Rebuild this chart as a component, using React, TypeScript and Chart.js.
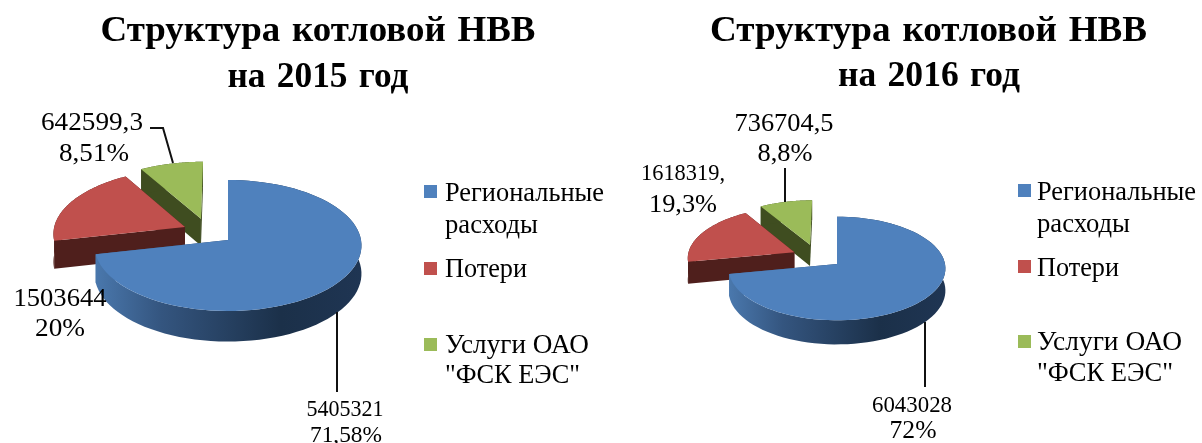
import React, { useEffect, useRef } from "react";
import { Chart, registerables } from "chart.js";

Chart.register(...registerables);

const categoryLines = [["Региональные", "расходы"], ["Потери"], ["Услуги ОАО", '"ФСК ЕЭС"']];
const values2015 = [5405321, 1503644, 642599.3];
const values2016 = [6043028, 1618319, 736704.5];
const titleLine1 = "Структура котловой НВВ";
const title2015 = "на 2015 год";
const title2016 = "на 2016 год";
const labels2015 = [["5405321", "71,58%"], ["1503644", "20%"], ["642599,3", "8,51%"]];
const labels2016 = [["6043028", "72%"], ["1618319,", "19,3%"], ["736704,5", "8,8%"]];
const topColors = ["#4f81bd", "#c0504d", "#9bbb59"];
const wallColors = ["#2c4a70", "#4f1f1c", "#3f4d20"];

const FONT = '"Liberation Serif", serif';

type Txt = [string, number, number, number, number]; // text, centre x, baseline, size, fitted width

function fitText(ctx: CanvasRenderingContext2D, t: Txt, bold = false) {
  const [s, x, y, size, w] = t;
  ctx.save();
  ctx.font = `${bold ? "bold " : ""}${size}px ${FONT}`;
  ctx.textAlign = "left";
  ctx.textBaseline = "alphabetic";
  ctx.fillStyle = "#000";
  (ctx as any).wordSpacing = bold ? "2.5px" : "0px";
  const m = ctx.measureText(s).width;
  ctx.translate(x - w / 2, y);
  ctx.scale(w / m, 1);
  ctx.fillText(s, 0, 0);
  ctx.restore();
}

const pie3d = {
  id: "pie3d",
  beforeDatasetDraw(chart: any, _args: any, o: any) {
    const ctx: CanvasRenderingContext2D = chart.ctx;
    const els: any[] = chart.getDatasetMeta(0).data;
    const project = (cx: number, cy: number, R: number, u: number, v: number, h: number) => {
      const s = 1 / (1 - (o.k * v) / R);
      return [cx + u * s, cy + o.tilt * v * s + h * s];
    };
    ctx.save();
    ctx.translate(-o.originX, 0);
    const g = ctx.createLinearGradient(o.cx - o.R, 0, o.cx + o.R, 0);
    g.addColorStop(0, "#4a78ad");
    g.addColorStop(0.25, "#34557f");
    g.addColorStop(0.7, "#1b3049");
    g.addColorStop(1, "#1f3553");
    for (const i of [2, 1, 0]) {
      const el = els[i];
      const a0 = el.startAngle;
      const a1 = el.endAngle;
      const mid = (a0 + a1) / 2;
      const off = el.options.offset || 0;
      const ou = Math.cos(mid) * off + o.shift[i][0];
      const ov = Math.sin(mid) * off + o.shift[i][1];
      const R = el.outerRadius;
      const P = (u: number, v: number, h: number) => project(o.cx, o.cy, o.R, u + ou, v + ov, h);
      const rim = (h: number) => {
        const pts: number[][] = [];
        const n = 80;
        for (let k = 0; k <= n; k++) {
          const a = a0 + ((a1 - a0) * k) / n;
          pts.push(P(Math.cos(a) * R, Math.sin(a) * R, h));
        }
        return pts;
      };
      const fill = (pts: number[][], color: any) => {
        ctx.beginPath();
        pts.forEach((p, k) => (k ? ctx.lineTo(p[0], p[1]) : ctx.moveTo(p[0], p[1])));
        ctx.closePath();
        ctx.fillStyle = color;
        ctx.fill();
      };
      const wall = i === 0 ? g : wallColors[i];
      const top = rim(0);
      const bottom = rim(o.h);
      // radial walls
      fill([P(0, 0, 0), top[0], bottom[0], P(0, 0, o.h)], wall);
      fill([P(0, 0, 0), top[top.length - 1], bottom[bottom.length - 1], P(0, 0, o.h)], wall);
      // outer wall
      fill([...top, ...bottom.slice().reverse()], wall);
      // top face
      fill([P(0, 0, 0), ...top], el.options.backgroundColor);
    }
    ctx.restore();
    return false;
  },
  afterDraw(chart: any, _args: any, o: any) {
    const ctx: CanvasRenderingContext2D = chart.ctx;
    ctx.save();
    ctx.translate(-o.originX, 0);
    // leader lines
    ctx.strokeStyle = "#111";
    ctx.lineWidth = 2;
    for (const l of o.leaders) {
      ctx.beginPath();
      l.forEach((p: number[], k: number) => (k ? ctx.lineTo(p[0], p[1]) : ctx.moveTo(p[0], p[1])));
      ctx.stroke();
    }
    for (const t of o.titles) fitText(ctx, t, true);
    for (const t of o.texts) fitText(ctx, t);
    // legend
    o.legend.forEach((row: any, i: number) => {
      ctx.fillStyle = topColors[i];
      ctx.fillRect(o.legendX, row.sq, 13, 13);
      row.lines.forEach((b: number, j: number) => {
        const s = categoryLines[i][j];
        fitText(ctx, [s, o.legendTextX + row.w[j] / 2, b, 26.5, row.w[j]]);
      });
    });
    ctx.restore();
  },
};

function makeChart(canvas: HTMLCanvasElement, values: number[], o: any) {
  const w = canvas.width;
  return new Chart(canvas, {
    type: "pie",
    data: {
      labels: categoryLines.map((l) => l.join(" ")),
      datasets: [{ data: values, backgroundColor: topColors, borderWidth: 0, offset: o.offsets }],
    },
    options: {
      responsive: false,
      animation: false,
      radius: o.R,
      layout: {
        padding: {
          top: 2 * o.cy - 443,
          left: Math.max(0, 2 * (o.cx - o.originX) - w),
          right: Math.max(0, w - 2 * (o.cx - o.originX)),
        },
      },
      plugins: { legend: { display: false }, title: { display: false }, tooltip: { enabled: false }, pie3d: o },
    } as any,
    plugins: [pie3d],
  });
}

const opts2015 = {
  originX: 0, cx: 228, cy: 240, R: 133, tilt: 0.489, k: 0.084, h: 28,
  offsets: [0, 47.7, 46.6],
  shift: [[0, 0], [0, -8], [-15.5, 0]],
  leaders: [[[150, 128], [163, 128], [173, 163]], [[337, 312], [337, 392]]],
  titles: [[titleLine1, 318, 41, 36.5, 435], [title2015, 318, 87, 36.5, 181]] as Txt[],
  texts: [
    [labels2015[2][0], 92, 130, 26, 102], [labels2015[2][1], 94, 161, 26, 70],
    [labels2015[1][0], 60, 306, 26, 93], [labels2015[1][1], 60, 336, 26, 50],
    [labels2015[0][0], 345, 416, 23, 77], [labels2015[0][1], 346, 442, 23, 72],
  ] as Txt[],
  legendX: 424,
  legendTextX: 445,
  legend: [
    { sq: 185, lines: [201, 233], w: [159, 93] },
    { sq: 262, lines: [277], w: [82] },
    { sq: 338, lines: [353, 383], w: [144, 135] },
  ],
};

const opts2016 = {
  originX: 610, cx: 837, cy: 264, R: 108, tilt: 0.476, k: 0.087, h: 22,
  offsets: [0, 47.5, 43.7],
  shift: [[0, 0], [0, -6], [-16, 0]],
  leaders: [[[785, 168], [785, 202]], [[925, 322], [925, 387]]],
  titles: [[titleLine1, 928.5, 41, 36.5, 437], [title2016, 929, 86, 36.5, 182]] as Txt[],
  texts: [
    [labels2016[2][0], 784, 131, 26, 99], [labels2016[2][1], 785, 161, 26, 55],
    [labels2016[1][0], 683, 180, 23, 84], [labels2016[1][1], 683, 212, 26, 68],
    [labels2016[0][0], 912, 412, 23, 80], [labels2016[0][1], 913, 438, 26, 47],
  ] as Txt[],
  legendX: 1018,
  legendTextX: 1037,
  legend: [
    { sq: 184, lines: [200, 232], w: [159, 93] },
    { sq: 260, lines: [276], w: [82] },
    { sq: 335, lines: [350, 381], w: [145, 136] },
  ],
};

export default function App() {
  const a = useRef<HTMLCanvasElement>(null);
  const b = useRef<HTMLCanvasElement>(null);
  useEffect(() => {
    const c1 = makeChart(a.current!, values2015, opts2015);
    const c2 = makeChart(b.current!, values2016, opts2016);
    return () => {
      c1.destroy();
      c2.destroy();
    };
  }, []);
  const blur = "blur(0.45px)";
  return (
    <div style={{ position: "absolute", left: 0, top: 0, width: 1202, height: 443, overflow: "hidden", background: "#fff" }}>
      <canvas ref={a} width={610} height={443} style={{ position: "absolute", left: 0, top: 0, filter: blur }} />
      <canvas ref={b} width={592} height={443} style={{ position: "absolute", left: 610, top: 0, filter: blur }} />
    </div>
  );
}
